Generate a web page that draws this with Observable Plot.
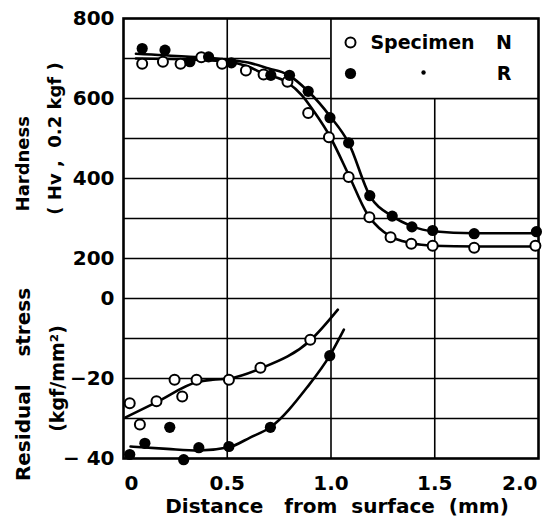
<!DOCTYPE html>
<html><head><meta charset="utf-8">
<script src="https://cdn.jsdelivr.net/npm/d3@7"></script>
<script src="https://cdn.jsdelivr.net/npm/@observablehq/plot@0.6"></script>
<style>
body{margin:0;background:#fff;}
svg text{white-space:pre;}
</style></head><body><div id="chart"></div>
<script>
// ---- data ----
// Hardness (Hv, 0.2 kgf) vs distance (mm)
const hardN_d = [0.09,0.19,0.275,0.375,0.475,0.59,0.675,0.79,0.89,0.99,1.085,1.185,1.287,1.387,1.49,1.69,1.985];
const hardN_v = [687,692,687,703,687,670,660,642,564,503,404,303,253,237,232,227,232];
const hardR_d = [0.09,0.2,0.32,0.41,0.52,0.71,0.8,0.89,0.995,1.085,1.187,1.295,1.39,1.49,1.69,1.99];
const hardR_v = [725,721,692,704,689,658,658,618,552,489,357,306,279,270,262,267];
// fitted hardness curves
const fitHN_d = [0.06,0.3,0.5,0.6,0.675,0.79,0.86,0.92,0.995,1.086,1.174,1.255,1.39,1.49,1.7,2.0];
const fitHN_v = [700,698,692,680,662,640,608,566,505,408,312,266,238,232,230,230];
const fitHR_d = [0.06,0.3,0.5,0.6,0.7,0.79,0.89,0.995,1.085,1.187,1.295,1.39,1.49,1.69,2.0];
const fitHR_v = [712,705,697,690,675,660,618,556,489,357,306,281,268,263,263];
// Residual stress (kgf/mm2) vs distance (mm)
const stressN_d = [0.03,0.079,0.159,0.246,0.283,0.352,0.508,0.66,0.90];
const stressN_v = [-26.2,-31.5,-25.7,-20.3,-24.5,-20.3,-20.3,-17.3,-10.3];
const stressR_d = [0.03,0.103,0.223,0.29,0.363,0.508,0.708,0.994];
const stressR_v = [-39,-36.2,-32.2,-40.3,-37.3,-37,-32.2,-14.3];
const fitSN_d = [0.01,0.16,0.355,0.43,0.508,0.66,0.9,1.033];
const fitSN_v = [-29.7,-25.9,-20.9,-20.3,-20,-17.5,-10.5,-2.8];
const fitSR_d = [0.034,0.21,0.363,0.508,0.612,0.708,0.885,0.994,1.062];
const fitSR_v = [-37,-37.6,-38,-37.2,-34.7,-32.2,-22.2,-14.3,-7.8];
// axis ticks
const xTicks = [0,0.5,1.0,1.5,2.0];
const xTickLabels = ["0","0.5","1.0","1.5","2.0"];
const hardTicks = [200,400,600,800];
const stressTicks = [0,-20,-40];
const stressTickLabels = ["0","\u221220","\u2212 40"];
const hardGrid = [200,300,400,500,600,700];
const stressGrid = [0,-10,-20,-30];
const legendNames = ["Specimen","N","R"];

// stress shares the vertical axis: 10 kgf/mm2 per 100 Hv, 0 stress at 100 Hv
const sY = s => 100 + 10*s;
const zip = (d,v,f=(x)=>x) => d.map((x,i)=>({d:x, y:f(v[i])}));

const HN = zip(hardN_d,hardN_v), HR = zip(hardR_d,hardR_v);
const FHN = zip(fitHN_d,fitHN_v), FHR = zip(fitHR_d,fitHR_v);
const SN = zip(stressN_d,stressN_v,sY), SR = zip(stressR_d,stressR_v,sY);
const FSN = zip(fitSN_d,fitSN_v,sY), FSR = zip(fitSR_d,fitSR_v,sY);

const yTickVals = [...hardTicks, ...stressTicks.map(sY)];
const yTickText = new Map([...hardTicks.map(t=>[t,String(t)]), ...stressTicks.map((t,i)=>[sY(t),stressTickLabels[i]])]);
const gridY = [...hardGrid, ...stressGrid.map(sY)];

const FONT = "DejaVu Sans";
const lineOpts = {x:"d", y:"y", stroke:"#000", strokeWidth:2.6, curve:"monotone-x"};

const chart = Plot.plot({
  width:552, height:526,
  marginLeft:123, marginRight:14, marginTop:18, marginBottom:68,
  x:{domain:[0,2]},
  y:{domain:[sY(-40),800]},
  style:{fontFamily:FONT, fontWeight:"bold", fontSize:"20px", color:"#000", background:"#fff"},
  marks:[
    Plot.ruleY(gridY, {stroke:"#000", strokeWidth:1.6}),
    Plot.ruleX(xTicks.slice(1,4), {stroke:"#000", strokeWidth:1.6}),
    Plot.rect([{x1:1.0,x2:2.0,y1:600,y2:800}], {x1:"x1",x2:"x2",y1:"y1",y2:"y2", fill:"#fff"}),
    Plot.ruleX([1.0], {y1:600, y2:800, stroke:"#000", strokeWidth:1.6}),
    Plot.ruleY([600], {x1:1.0, x2:2.0, stroke:"#000", strokeWidth:1.6}),
    Plot.frame({stroke:"#000", strokeWidth:2.6}),
    Plot.line(FHN, lineOpts),
    Plot.line(FHR, lineOpts),
    Plot.line(FSN, lineOpts),
    Plot.line(FSR, lineOpts),
    Plot.dot(HN, {x:"d", y:"y", r:5, fill:"#fff", stroke:"#000", strokeWidth:2}),
    Plot.dot(SN, {x:"d", y:"y", r:5, fill:"#fff", stroke:"#000", strokeWidth:2}),
    Plot.dot(HR, {x:"d", y:"y", r:5.6, fill:"#000", stroke:"none"}),
    Plot.dot(SR, {x:"d", y:"y", r:5.6, fill:"#000", stroke:"none"}),
    // legend
    Plot.dot([{x:1.094,y:740}], {x:"x", y:"y", r:5, fill:"#fff", stroke:"#000", strokeWidth:2}),
    Plot.dot([{x:1.094,y:662.5}], {x:"x", y:"y", r:5.6, fill:"#000"}),
    Plot.dot([{x:1.446,y:665}], {x:"x", y:"y", r:2.2, fill:"#000"}),
    Plot.text([{x:1.19,y:740,t:legendNames[0]}], {x:"x", y:"y", text:"t", textAnchor:"start", fontSize:19}),
    Plot.text([{x:1.834,y:740,t:legendNames[1]},{x:1.834,y:662.5,t:legendNames[2]}], {x:"x", y:"y", text:"t", fontSize:19}),
    // axes
    Plot.axisY(yTickVals, {tickFormat:d=>yTickText.get(d), tickSize:0, tickPadding:9, label:null, fontSize:20}),
    Plot.axisX(xTicks.slice(1,4), {tickFormat:d=>xTickLabels[xTicks.indexOf(d)], tickSize:0, tickPadding:17, label:null, fontSize:20}),
    Plot.axisX([xTicks[0]], {tickFormat:()=>xTickLabels[0], tickSize:0, tickPadding:17, label:null, textAnchor:"start", dx:1, fontSize:20}),
    Plot.axisX([xTicks[4]], {tickFormat:()=>xTickLabels[4], tickSize:0, tickPadding:17, label:null, textAnchor:"end", dx:-1, fontSize:20}),
    // titles
    Plot.text(["Distance   from  surface  (mm)"], {frameAnchor:"bottom", dy:54, dx:6, fontSize:20}),
    Plot.text(["Hardness"], {frameAnchor:"left", y:[437], dx:-100, rotate:-90, textAnchor:"middle", fontSize:18}),
    Plot.text(["( Hv ,  0.2 kgf )"], {frameAnchor:"left", y:[500], dx:-68, rotate:-90, textAnchor:"middle", fontSize:18}),
    Plot.text(["Residual    stress"], {frameAnchor:"left", y:[-115], dx:-100, rotate:-90, textAnchor:"middle", fontSize:20}),
    Plot.text(["(kgf/mm\u00b2)"], {frameAnchor:"left", y:[-100], dx:-66, rotate:-90, textAnchor:"middle", fontSize:19})
  ]
});
document.getElementById("chart").appendChild(chart);
</script></body></html>
